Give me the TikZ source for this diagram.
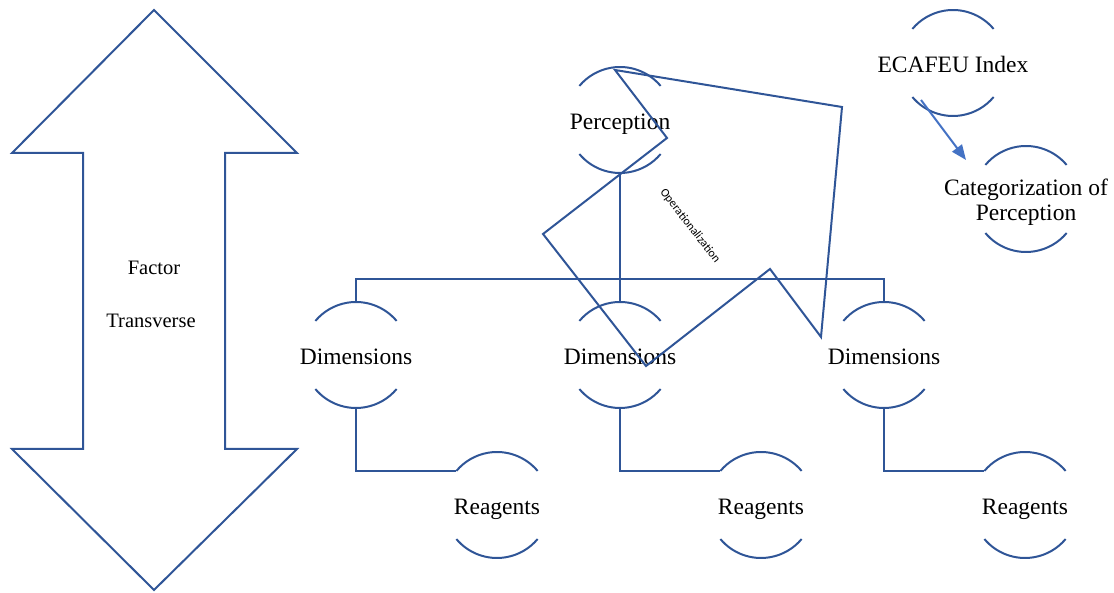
\documentclass[tikz,border=0pt]{standalone}
\usepackage{fontspec}
\setmainfont{Liberation Serif}
\newfontfamily\carlito{Carlito}
\usetikzlibrary{calc,arrows.meta}
\definecolor{lc}{RGB}{47,85,151}
\definecolor{ac}{RGB}{68,114,196}
\begin{document}
\begin{tikzpicture}[x=1pt,y=1pt,
  ln/.style={draw=lc,line width=2pt,line join=miter},
  lbl/.style={inner sep=0pt,outer sep=0pt,align=center,text height=20pt,text depth=0pt,font=\fontsize{23.5}{26}\selectfont},
  small/.style={inner sep=0pt,font=\fontsize{20.5}{23}\selectfont}]
\useasboundingbox (0,0) rectangle (1114,593);
% big double arrow
\draw[ln] (154,583) -- (297,440) -- (225,440) -- (225,144) -- (297,144) -- (154,3)
  -- (12,144) -- (83,144) -- (83,440) -- (12,440) -- cycle;
\node[small] (factor) at (154,325) {Factor};
\node[small] (transv) at (151,272) {Transverse};
% nodes
\node[lbl] (perc) at (620,473) {Perception};
\node[lbl] (dim1) at (356,238) {Dimensions};
\node[lbl] (dim2) at (620,238) {Dimensions};
\node[lbl] (dim3) at (884,238) {Dimensions};
\node[lbl] (r1) at (497,88) {Reagents};
\node[lbl] (r2) at (761,88) {Reagents};
\node[lbl] (r3) at (1025,88) {Reagents};
\node[lbl] (ecafeu) at (953,530) {ECAFEU Index};
\node[inner sep=0pt,align=center,font=\fontsize{23.5}{25.5}\selectfont] (cat) at (1026,391) {Categorization of\\Perception};
\coordinate (catc) at ($(cat.center)+(0,3)$);
\foreach \n in {perc.center,dim1.center,dim2.center,dim3.center,r1.center,r2.center,r3.center,ecafeu.center,catc}{
  \draw[ln] ($(\n)+(40:53)$) arc[start angle=40,end angle=140,radius=53pt];
  \draw[ln] ($(\n)+(220:53)$) arc[start angle=220,end angle=320,radius=53pt];
}
% tree connectors
\draw[ln] ($(perc.center)+(0,-53)$) -- ($(dim2.center)+(0,53)$);
\draw[ln] ($(dim1.center)+(0,53)$) -- ($(dim1.center)+(0,76)$) -- ($(dim3.center)+(0,76)$) -- ($(dim3.center)+(0,53)$);
\draw[ln] ($(dim1.center)+(0,-53)$) |- ($(r1.center)+(140:53)$);
\draw[ln] ($(dim2.center)+(0,-53)$) |- ($(r2.center)+(140:53)$);
\draw[ln] ($(dim3.center)+(0,-53)$) |- ($(r3.center)+(140:53)$);
% zigzag polygon
\draw[ln] (615,523) -- (667,455) -- (543,359) -- (646,227) -- (770,324) -- (821,256) -- (842,486) -- cycle;
\node[inner sep=0pt,rotate=-52,font=\carlito\fontsize{12}{14}\selectfont] (oper) at (690,367) {Operationalization};
% ECAFEU arrow
\draw[draw=ac,line width=2pt,-{Triangle[length=15pt,width=12pt]}] ($(ecafeu.center)+(-32,-37)$) -- ($(catc)+(-60,39)$);
\end{tikzpicture}
\end{document}
